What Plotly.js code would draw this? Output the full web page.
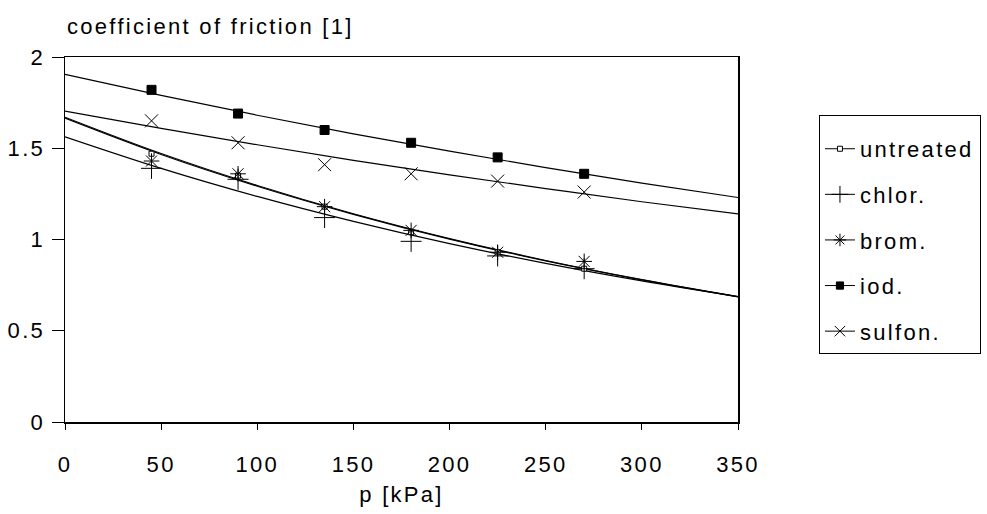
<!DOCTYPE html>
<html>
<head>
<meta charset="utf-8">
<script src="https://cdn.plot.ly/plotly-3.0.1.min.js"></script>
<style>
html,body{margin:0;padding:0;background:#fff;}
#chart{width:987px;height:514px;overflow:hidden;}
svg text{letter-spacing:2.3px;}
</style>
</head>
<body>
<div id="chart"></div>
<script>
// measured pressures [kPa]
const pressure = [45, 90, 135, 180, 225, 270];
// measured coefficients of friction
const untreated = [1.47, 1.35, 1.18, 1.04, 0.93, 0.84];
const chlor     = [1.39, 1.33, 1.12, 0.99, 0.91, 0.84];
const brom      = [1.43, 1.36, 1.18, 1.05, 0.93, 0.88];
const iod       = [1.82, 1.69, 1.60, 1.53, 1.45, 1.36];
const sulfon    = [1.65, 1.53, 1.41, 1.36, 1.32, 1.26];

// trend curves
const fitP = [0, 50, 100, 150, 200, 250, 300, 350];
const fitUntreated = [1.665, 1.466, 1.292, 1.138, 1.002, 0.883, 0.779, 0.686];
const fitChlor     = [1.563, 1.390, 1.236, 1.099, 0.977, 0.869, 0.773, 0.687];
const fitBrom      = [1.670, 1.471, 1.296, 1.141, 1.005, 0.885, 0.780, 0.687];
const fitIod       = [1.905, 1.790, 1.681, 1.579, 1.484, 1.394, 1.309, 1.230];
const fitSulfon    = [1.704, 1.609, 1.519, 1.434, 1.354, 1.279, 1.207, 1.140];

const names = ['untreated', 'chlor.', 'brom.', 'iod.', 'sulfon.'];
const series = [untreated, chlor, brom, iod, sulfon];
const fits = [fitUntreated, fitChlor, fitBrom, fitIod, fitSulfon];
const markers = [
  {symbol: 'square', size: 5, color: '#fff', line: {color: '#000', width: 1}},
  {symbol: 'cross-thin-open', size: 15, color: '#000', line: {color: '#000', width: 1}},
  {symbol: 'asterisk-open', size: 13, color: '#000', line: {color: '#000', width: 1}},
  {symbol: 'square', size: 9, color: '#000', line: {color: '#000', width: 1}},
  {symbol: 'x-thin-open', size: 13, color: '#000', line: {color: '#000', width: 1}}
];

const traces = [];
for (let i = 0; i < names.length; i++) {
  traces.push({
    x: fitP, y: fits[i], mode: 'lines', type: 'scatter',
    line: {color: '#000', width: 1.2, shape: 'spline'},
    showlegend: false, hoverinfo: 'skip'
  });
}
for (let i = 0; i < names.length; i++) {
  traces.push({
    x: pressure, y: series[i], mode: 'markers', type: 'scatter',
    marker: markers[i], showlegend: false
  });
}
for (let i = 0; i < names.length; i++) {
  traces.push({
    x: [null], y: [null], mode: 'lines+markers', type: 'scatter',
    name: names[i], legendgroup: 'g' + i,
    line: {color: '#000', width: 1},
    marker: Object.assign({}, markers[i], {size: Math.max(5, markers[i].size * 0.8)})
  });
}

const font = {family: 'Liberation Sans, Arial, sans-serif', color: '#000'};

const layout = {
  width: 987, height: 514,
  margin: {l: 65, r: 249, t: 57, b: 92, autoexpand: false},
  paper_bgcolor: '#fff', plot_bgcolor: '#fff',
  font: Object.assign({size: 22}, font),
  showlegend: true,
  xaxis: {
    range: [0, 350], dtick: 50, tick0: 0,
    showgrid: false, zeroline: false,
    showline: true, linecolor: '#000', linewidth: 1.5, mirror: true,
    ticks: 'outside', ticklen: 6, tickcolor: '#000', tickwidth: 1,
    tickfont: Object.assign({size: 22}, font),
    ticklabelstandoff: 16,
    title: {text: 'p [kPa]', font: Object.assign({size: 22}, font), standoff: 10}
  },
  yaxis: {
    range: [0, 2], dtick: 0.5, tick0: 0,
    showgrid: false, zeroline: false,
    showline: true, linecolor: '#000', linewidth: 1.5, mirror: true,
    ticks: 'outside', ticklen: 12, tickcolor: '#000', tickwidth: 1,
    tickfont: Object.assign({size: 22}, font),
    ticklabelstandoff: 2
  },
  legend: {
    x: 1.12, y: 0.841, xanchor: 'left', yanchor: 'top',
    bordercolor: '#000', borderwidth: 1.2, bgcolor: '#fff',
    font: Object.assign({size: 22}, font),
    title: {text: ' ', font: Object.assign({size: 9}, font)},
    traceorder: 'grouped', tracegroupgap: 14, itemwidth: 30
  },
  annotations: [{
    text: 'coefficient of friction [1]',
    xref: 'paper', yref: 'paper', x: 0, y: 1, xanchor: 'left', yanchor: 'bottom',
    yshift: 16, xshift: 0, showarrow: false,
    font: Object.assign({size: 22}, font)
  }]
};

Plotly.newPlot('chart', traces, layout, {displayModeBar: false, staticPlot: true});
</script>
</body>
</html>
